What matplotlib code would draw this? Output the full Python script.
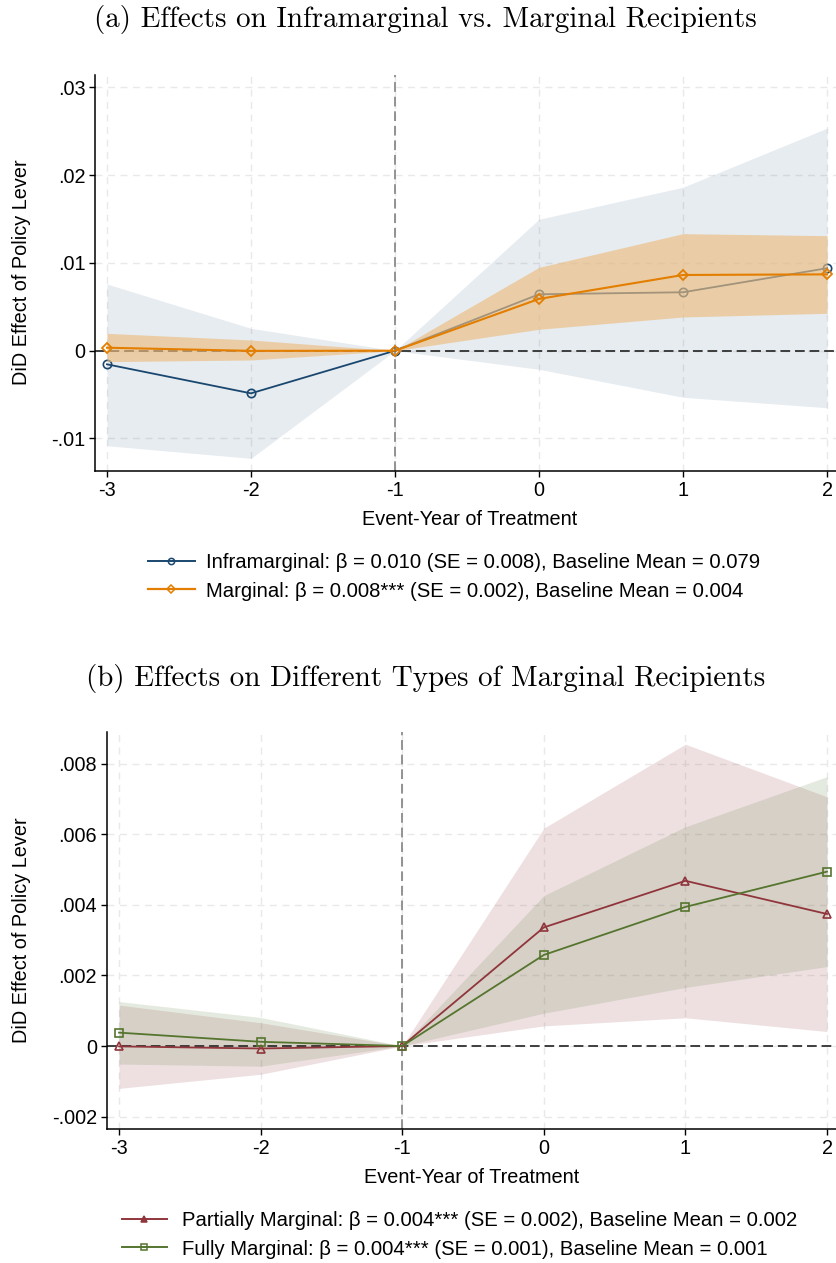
import numpy as np
import matplotlib
matplotlib.use("Agg")
import matplotlib.pyplot as plt
from matplotlib.lines import Line2D

plt.rcParams['font.family'] = ['Liberation Sans', 'DejaVu Sans']
plt.rcParams['lines.scale_dashes'] = False

# event years
years = [-3, -2, -1, 0, 1, 2]
xtick_labels = ['-3', '-2', '-1', '0', '1', '2']

# panel (a): inframarginal vs marginal
infra = [-0.00155, -0.00486, 0.0, 0.00643, 0.00666, 0.0094]
infra_hi = [0.0076, 0.00255, 0.0, 0.01498, 0.01863, 0.02536]
infra_lo = [-0.01083, -0.01227, 0.0, -0.00212, -0.00531, -0.0065]
marg = [0.00034, -0.00002, 0.0, 0.0059, 0.00863, 0.0087]
marg_hi = [0.00198, 0.00122, 0.0, 0.0095, 0.01334, 0.01311]
marg_lo = [-0.00125, -0.00106, 0.0, 0.00244, 0.00384, 0.00426]
a_yticks = [-0.01, 0, 0.01, 0.02, 0.03]
a_ylabels = ['-.01', '0', '.01', '.02', '.03']

# panel (b): partially vs fully marginal
part = [-0.00001, -0.00007, 0.0, 0.00336, 0.00468, 0.00374]
part_hi = [0.00116, 0.00066, 0.0, 0.00617, 0.00855, 0.00706]
part_lo = [-0.0012, -0.0008, 0.0, 0.00057, 0.0008, 0.00041]
full = [0.00038, 0.00012, 0.0, 0.00258, 0.00394, 0.00494]
full_hi = [0.00126, 0.00081, 0.0, 0.00426, 0.00621, 0.00763]
full_lo = [-0.00051, -0.00057, 0.0, 0.00093, 0.00166, 0.00225]
b_yticks = [-0.002, 0, 0.002, 0.004, 0.006, 0.008]
b_ylabels = ['-.002', '0', '.002', '.004', '.006', '.008']

lab_infra = 'Inframarginal: β = 0.010 (SE = 0.008), Baseline Mean = 0.079'
lab_marg = 'Marginal: β = 0.008*** (SE = 0.002), Baseline Mean = 0.004'
lab_part = 'Partially Marginal: β = 0.004*** (SE = 0.002), Baseline Mean = 0.002'
lab_full = 'Fully Marginal: β = 0.004*** (SE = 0.001), Baseline Mean = 0.001'

navy = '#1a476f'
orange = '#e37e00'
maroon = '#90353b'
green = '#55752f'

W, H = 837, 1263
fig = plt.figure(figsize=(W / 100, H / 100), dpi=100)


def style_axes(ax, yticks, ylabels):
    ax.set_xticks(years)
    ax.set_xticklabels(xtick_labels)
    ax.set_yticks(yticks)
    ax.set_yticklabels(ylabels)
    for s in ['top', 'right']:
        ax.spines[s].set_visible(False)
    for s in ['left', 'bottom']:
        ax.spines[s].set_linewidth(1.1)
    ax.tick_params(direction='out', length=4, width=1, labelsize=14.3, pad=3)
    ax.grid(True, color='#e9e9e9', lw=1.0, ls=(0, (5, 4)), zorder=0)
    ax.set_axisbelow(True)
    ax.axvline(-1, color='#8a8a8a', lw=1.3, ls=(0, (7, 3.5)), zorder=1.5)
    ax.axhline(0, color='#303030', lw=1.3, ls=(0, (7, 3.5)), zorder=1.5)
    ax.set_xlabel('Event-Year of Treatment', fontsize=14.3)
    ax.set_ylabel('DiD Effect of Policy Lever', fontsize=14.3)


# ---- panel (a)
ax1 = fig.add_axes([95 / W, 1 - 471 / H, (W - 95) / W, 396 / H])
ax1.fill_between(years, infra_lo, infra_hi, color=navy, alpha=0.1, lw=0, zorder=1)
ax1.plot(years, infra, color=navy, lw=1.3, marker='o', ms=6, mfc='none', mew=1.2,
         zorder=2, clip_on=False)
ax1.fill_between(years, marg_lo, marg_hi, color='#ecbd80', alpha=0.65, lw=0, zorder=3)
ax1.plot(years, marg, color=orange, lw=1.5, marker='D', ms=5.5, mfc='none', mew=1.3,
         zorder=4, clip_on=False)
ax1.set_xlim(-3.083, 2.069)
ax1.set_ylim(-0.01371, 0.03142)
style_axes(ax1, a_yticks, a_ylabels)
ax1.xaxis.set_label_coords(0.505, -0.098)
ax1.yaxis.set_label_coords(-0.086, 0.501)

fig.text(0.508, 1 - 19 / H, '(a) Effects on Inframarginal vs. Marginal Recipients',
         family='cmr10', fontsize=20.9, ha='center', va='center')

h1 = [Line2D([], [], color=navy, lw=1.4, marker='o', ms=4.5, mfc='none', mew=1.1),
      Line2D([], [], color=orange, lw=1.6, marker='D', ms=4.5, mfc='none', mew=1.1)]
fig.legend(h1, [lab_infra, lab_marg], loc='upper left', bbox_to_anchor=(148 / W, 1 - 553 / H),
           frameon=False, fontsize=14.6, handlelength=2.3, handletextpad=0.55,
           labelspacing=0.47, borderpad=0, borderaxespad=0)

# ---- panel (b)
ax2 = fig.add_axes([106.7 / W, 1 - 1129 / H, (W - 106.7) / W, 397 / H])
ax2.fill_between(years, part_lo, part_hi, color=maroon, alpha=0.15, lw=0, zorder=1)
ax2.fill_between(years, full_lo, full_hi, color=green, alpha=0.15, lw=0, zorder=1.2)
ax2.plot(years, part, color=maroon, lw=1.3, marker='^', ms=6, mfc='none', mew=1.2,
         zorder=3, clip_on=False)
ax2.plot(years, full, color=green, lw=1.3, marker='s', ms=5.5, mfc='none', mew=1.2,
         zorder=4, clip_on=False)
ax2.set_xlim(-3.087, 2.0706)
ax2.set_ylim(-0.00235, 0.008895)
style_axes(ax2, b_yticks, b_ylabels)
ax2.xaxis.set_label_coords(0.5, -0.098)
ax2.yaxis.set_label_coords(-0.1037, 0.501)

fig.text(0.508, 1 - 678 / H, '(b) Effects on Different Types of Marginal Recipients',
         family='cmr10', fontsize=20.9, ha='center', va='center')

h2 = [Line2D([], [], color=maroon, lw=1.4, marker='^', ms=4.5, mfc=maroon, mew=1.1),
      Line2D([], [], color=green, lw=1.4, marker='s', ms=4.0, mfc='none', mew=1.1)]
fig.legend(h2, [lab_part, lab_full], loc='upper left', bbox_to_anchor=(122 / W, 1 - 1211 / H),
           frameon=False, fontsize=14.6, handlelength=2.2, handletextpad=0.75,
           labelspacing=0.47, borderpad=0, borderaxespad=0)

fig.savefig('out.png', dpi=100)
